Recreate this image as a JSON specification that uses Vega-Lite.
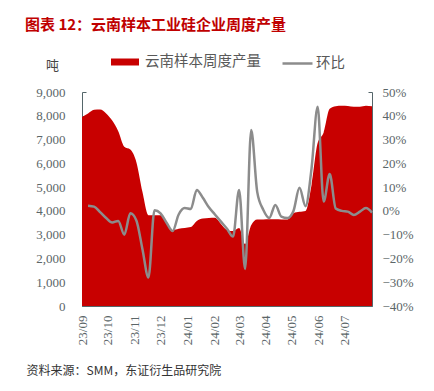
{
  "$schema": "https://vega.github.io/schema/vega-lite/v6.json",
  "width": 290,
  "height": 214,
  "autosize": {"type": "none"},
  "padding": {"left": 82, "top": 92, "right": 62, "bottom": 85},
  "background": "white",
  "title": {
    "text": "图表 12：云南样本工业硅企业周度产量",
    "anchor": "start",
    "frame": "group",
    "dx": -57,
    "offset": 14,
    "color": "#c00000",
    "font": "Noto Sans CJK SC",
    "fontSize": 15,
    "fontWeight": "bold"
  },
  "config": {
    "view": {"stroke": null},
    "axis": {
      "labelFont": "'Liberation Serif', 'Times New Roman', serif",
      "labelFontSize": 13,
      "labelColor": "#5b6668",
      "domainColor": "#55666a",
      "tickColor": "#55666a",
      "grid": false
    }
  },
  "data": {
    "values": [
      {"date": "2023-09-01", "output": 7950, "hb": null},
      {"date": "2023-09-08", "output": 8100, "hb": 0.022},
      {"date": "2023-09-15", "output": 8250, "hb": 0.018},
      {"date": "2023-09-22", "output": 8260, "hb": -0.005},
      {"date": "2023-09-29", "output": 8100, "hb": -0.03},
      {"date": "2023-10-06", "output": 7800, "hb": -0.049},
      {"date": "2023-10-13", "output": 7350, "hb": -0.042},
      {"date": "2023-10-20", "output": 6700, "hb": -0.10},
      {"date": "2023-10-27", "output": 6580, "hb": -0.01},
      {"date": "2023-11-03", "output": 6050, "hb": -0.04},
      {"date": "2023-11-10", "output": 4800, "hb": -0.16},
      {"date": "2023-11-17", "output": 3820, "hb": -0.28},
      {"date": "2023-11-24", "output": 3820, "hb": 0.003},
      {"date": "2023-12-01", "output": 3820, "hb": -0.01},
      {"date": "2023-12-08", "output": 3490, "hb": -0.05},
      {"date": "2023-12-15", "output": 3190, "hb": -0.085},
      {"date": "2023-12-22", "output": 3250, "hb": -0.015},
      {"date": "2023-12-29", "output": 3280, "hb": 0.012},
      {"date": "2024-01-05", "output": 3320, "hb": 0.008},
      {"date": "2024-01-12", "output": 3580, "hb": 0.088},
      {"date": "2024-01-19", "output": 3680, "hb": 0.055},
      {"date": "2024-01-26", "output": 3700, "hb": 0.015},
      {"date": "2024-02-02", "output": 3710, "hb": -0.015},
      {"date": "2024-02-09", "output": 3450, "hb": -0.045},
      {"date": "2024-02-16", "output": 3200, "hb": -0.075},
      {"date": "2024-02-23", "output": 3150, "hb": -0.108},
      {"date": "2024-03-01", "output": 3280, "hb": 0.088},
      {"date": "2024-03-08", "output": 2600, "hb": -0.244},
      {"date": "2024-03-15", "output": 3400, "hb": 0.34},
      {"date": "2024-03-22", "output": 3640, "hb": 0.08},
      {"date": "2024-03-29", "output": 3640, "hb": 0.005},
      {"date": "2024-04-05", "output": 3650, "hb": -0.03},
      {"date": "2024-04-12", "output": 3650, "hb": 0.025},
      {"date": "2024-04-19", "output": 3640, "hb": -0.024},
      {"date": "2024-04-26", "output": 3640, "hb": -0.03},
      {"date": "2024-05-03", "output": 3900, "hb": 0.0},
      {"date": "2024-05-10", "output": 3960, "hb": 0.097},
      {"date": "2024-05-17", "output": 4000, "hb": 0.02},
      {"date": "2024-05-24", "output": 5100, "hb": 0.18},
      {"date": "2024-05-31", "output": 6850, "hb": 0.438},
      {"date": "2024-06-07", "output": 7300, "hb": 0.039},
      {"date": "2024-06-14", "output": 8300, "hb": 0.155},
      {"date": "2024-06-21", "output": 8400, "hb": 0.01},
      {"date": "2024-06-28", "output": 8420, "hb": 0.0},
      {"date": "2024-07-05", "output": 8410, "hb": -0.003},
      {"date": "2024-07-12", "output": 8380, "hb": -0.017},
      {"date": "2024-07-19", "output": 8380, "hb": -0.003},
      {"date": "2024-07-26", "output": 8420, "hb": 0.012},
      {"date": "2024-08-02", "output": 8400, "hb": -0.007}
    ]
  },
  "encoding": {
    "x": {
      "field": "date",
      "type": "temporal",
      "scale": {
        "type": "utc",
        "domain": [
          {"year": 2023, "month": 9, "date": 1, "utc": true},
          {"year": 2024, "month": 8, "date": 2, "utc": true}
        ]
      },
      "axis": {
        "values": [
          {"year": 2023, "month": 9, "date": 1, "utc": true},
          {"year": 2023, "month": 10, "date": 1, "utc": true},
          {"year": 2023, "month": 11, "date": 1, "utc": true},
          {"year": 2023, "month": 12, "date": 1, "utc": true},
          {"year": 2024, "month": 1, "date": 1, "utc": true},
          {"year": 2024, "month": 2, "date": 1, "utc": true},
          {"year": 2024, "month": 3, "date": 1, "utc": true},
          {"year": 2024, "month": 4, "date": 1, "utc": true},
          {"year": 2024, "month": 5, "date": 1, "utc": true},
          {"year": 2024, "month": 6, "date": 1, "utc": true},
          {"year": 2024, "month": 7, "date": 1, "utc": true}
        ],
        "labelExpr": "utcFormat(datum.value, '%y/%m')",
        "labelAngle": -90,
        "labelAlign": "right",
        "labelBaseline": "middle",
        "tickSize": -4,
        "labelPadding": 13,
        "labelOverlap": false,
        "labelBound": false,
        "labelFlush": false,
        "title": "资料来源：SMM，东证衍生品研究院",
        "titleFont": "Noto Sans CJK SC",
        "titleFontSize": 12,
        "titleFontWeight": "normal",
        "titleColor": "#333333",
        "titleAnchor": "start",
        "titleAlign": "left",
        "titleBaseline": "middle",
        "titleX": -56,
        "titleY": 64
      }
    }
  },
  "layer": [
    {
      "mark": {"type": "area", "interpolate": "monotone"},
      "encoding": {
        "y": {
          "field": "output",
          "type": "quantitative",
          "scale": {"domain": [0, 9000], "nice": false},
          "axis": {
            "values": [0, 1000, 2000, 3000, 4000, 5000, 6000, 7000, 8000, 9000],
            "labelExpr": "format(datum.value, ',')",
            "tickSize": -4,
            "labelPadding": 21,
            "title": "吨",
            "titleAngle": 0,
            "titleFont": "Noto Sans CJK SC",
            "titleFontSize": 13,
            "titleFontWeight": "normal",
            "titleColor": "#444444",
            "titleAlign": "center",
            "titleBaseline": "middle",
            "titleX": -30,
            "titleY": -27
          }
        },
        "fill": {
          "datum": "云南样本周度产量",
          "scale": {"domain": ["云南样本周度产量"], "range": ["#c80000"]},
          "legend": {
            "orient": "none",
            "legendX": 29,
            "legendY": -44,
            "direction": "horizontal",
            "title": null,
            "padding": 0,
            "symbolType": "M-1,-0.25H1V0.25H-1Z",
            "symbolSize": 784,
            "symbolStrokeWidth": 0,
            "symbolOpacity": 1,
            "labelOffset": 6,
            "labelFont": "Noto Sans CJK SC",
            "labelFontSize": 14.5,
            "labelColor": "#595959"
          }
        }
      }
    },
    {
      "mark": {"type": "line", "interpolate": "monotone", "strokeWidth": 2.5},
      "encoding": {
        "y": {
          "field": "hb",
          "type": "quantitative",
          "scale": {"domain": [-0.4, 0.5], "nice": false},
          "axis": {
            "orient": "right",
            "values": [-0.4, -0.3, -0.2, -0.1, 0, 0.1, 0.2, 0.3, 0.4, 0.5],
            "format": ".0%",
            "tickSize": -4,
            "labelPadding": 14,
            "title": null
          }
        },
        "stroke": {
          "datum": "环比",
          "scale": {"domain": ["环比"], "range": ["#8c8c8c"]},
          "legend": {
            "orient": "none",
            "legendX": 199,
            "legendY": -45,
            "direction": "horizontal",
            "title": null,
            "padding": 0,
            "symbolType": "stroke",
            "symbolSize": 900,
            "symbolStrokeWidth": 2.5,
            "labelOffset": 2,
            "labelFont": "Noto Sans CJK SC",
            "labelFontSize": 14.5,
            "labelColor": "#595959"
          }
        }
      }
    }
  ],
  "resolve": {"scale": {"y": "independent"}}
}
